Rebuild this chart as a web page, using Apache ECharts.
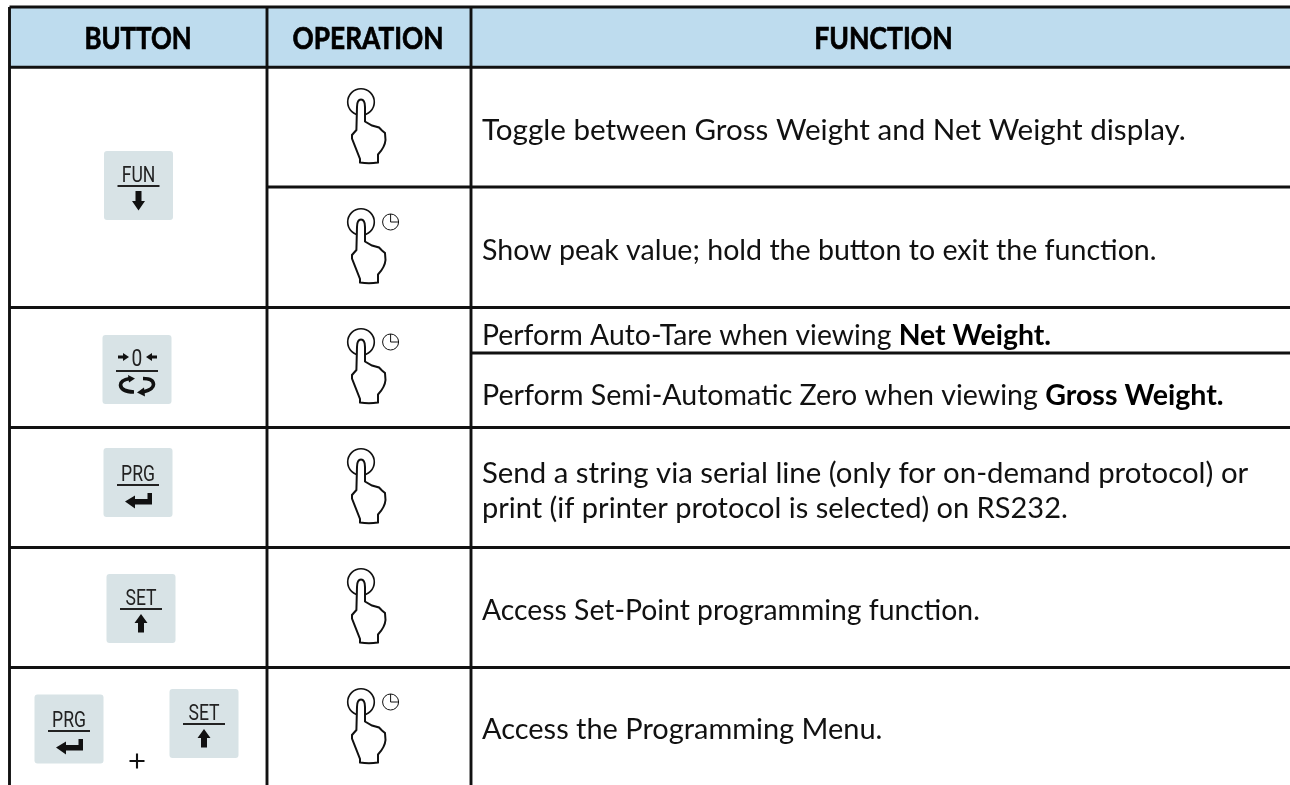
<!DOCTYPE html>
<html>
<head>
<meta charset="utf-8">
<script src="https://cdn.jsdelivr.net/npm/echarts@6/dist/echarts.min.js"></script>
<style>
    html, body { margin: 0; padding: 0; background: #fff; }
    #main { width: 1290px; height: 785px; }
</style>
</head>
<body>
<div id="main"></div>
<script>
const headers = ['BUTTON', 'OPERATION', 'FUNCTION']
const functionTexts = [
    ['Toggle between Gross Weight and Net Weight display.', ''],
    ['Show peak value; hold the button to exit the function.', ''],
    ['Perform Auto-Tare when viewing ', 'Net Weight.'],
    ['Perform Semi-Automatic Zero when viewing ', 'Gross Weight.'],
    ['Send a string via serial line (only for on-demand protocol) or', ''],
    ['print (if printer protocol is selected) on RS232.', ''],
    ['Access Set-Point programming function.', ''],
    ['Access the Programming Menu.', ''],
]
const buttonCaps = ['FUN', '0', 'PRG', 'SET', 'PRG', 'SET']
const buttonSymbols = ['down', 'cycle', 'enter', 'up', 'enter', 'up']
const operationHold = [false, true, true, false, false, true]

// page layout, in pixels of the 1290x785 axes
const columnEdges = [9.5, 267, 471, 1290]
const tableTop = 7
const headerBottom = 67.3
const headerCentreX = [138, 368, 883.5]
const headerStretch = [0.86, 0.875, 0.885]
const functionLineY = [131, 251, 335.5, 395.5, 473.5, 508.5, 610.5, 729.5]
const functionStretch = [1.02, 0.985, 0.978, 0.985, 1.013, 1, 0.977, 0.998]
const functionX = 482
const buttonCentreX = [138.5, 137, 138, 141, 69, 204]
const buttonCentreY = [185.5, 369.5, 482.5, 608.5, 729, 723.5]
const buttonRuleOffset = [0.5, 1.5, 2.5, 0.5, 2, 0.5]
const handCentreY = [102, 222, 342, 462, 582, 702]
const handCentreX = 361
// [x0, y0, x1, y1]
const rules = [
    [columnEdges[0], tableTop, columnEdges[3], tableTop],
    [columnEdges[0], headerBottom, columnEdges[3], headerBottom],
    [columnEdges[1], 187, columnEdges[3], 187],
    [columnEdges[0], 307.5, columnEdges[3], 307.5],
    [columnEdges[2], 353, columnEdges[3], 353],
    [columnEdges[0], 427.5, columnEdges[3], 427.5],
    [columnEdges[0], 547.5, columnEdges[3], 547.5],
    [columnEdges[0], 667.5, columnEdges[3], 667.5],
    [columnEdges[0], tableTop, columnEdges[0], 785],
    [columnEdges[1], tableTop, columnEdges[1], 785],
    [columnEdges[2], tableTop, columnEdges[2], 785],
]

const INK = '#111'
const BODY_FONT = 'Lato'
const CAP_FONT = 'Roboto'

const HAND_PATH = 'M0,-2.5C-2.6,-2.5 -4,1 -4,5L-4.6,28L-9,33L-9,36.5L-1,57L-1,60.5Q8,62 17,60.5L17,52.5Q24,45 24.5,38L24,31L21,28.5L18,25.5L11,23.5L4,19.5L4,5C4,1 2.6,-2.5 0,-2.5Z'
const SYMBOL_PATHS = {
    down: 'M-3,0L3,0L3,10L6.5,10L0,19.5L-6.5,10L-3,10Z',
    up: 'M0,0L6.5,9L3,9L3,18.5L-3,18.5L-3,9L-6.5,9Z',
    enter: 'M9.5,0L14,0L14,11.5L-3,11.5L-3,15.5L-13,8.5L-3,2.5L-3,6L9.5,6Z',
}

const cartesian = {
    grid: { left: 0, right: 0, top: 0, bottom: 0 },
    xAxis: { type: 'value', min: 0, max: 1290, show: false },
    yAxis: { type: 'value', min: 0, max: 785, inverse: true, show: false },
}

const customSeries = (data, renderItem) => ({
    type: 'custom',
    coordinateSystem: 'cartesian2d',
    silent: true,
    clip: false,
    animation: false,
    data,
    renderItem,
})

const indices = (list) => list.map((_, i) => [i])

const renderHeaderBand = (params, api) => {
    const a = api.coord([columnEdges[0], tableTop])
    const b = api.coord([columnEdges[3], headerBottom])
    return {
        type: 'rect',
        shape: { x: a[0], y: a[1], width: b[0] - a[0], height: b[1] - a[1] },
        style: { fill: '#bedcee' },
    }
}

const renderRule = (params, api) => {
    const a = api.coord([api.value(0), api.value(1)])
    const b = api.coord([api.value(2), api.value(3)])
    return {
        type: 'line',
        shape: { x1: a[0], y1: a[1], x2: b[0], y2: b[1] },
        style: { stroke: INK, lineWidth: 2.9 },
    }
}

const renderHeader = (params, api) => {
    const i = api.value(0)
    const p = api.coord([headerCentreX[i], 39.5])
    return {
        type: 'text',
        x: p[0],
        y: p[1],
        scaleX: headerStretch[i],
        style: {
            text: headers[i],
            fill: '#000',
            stroke: '#000',
            lineWidth: 0.7,
            fontFamily: BODY_FONT,
            fontWeight: 'bold',
            fontSize: 30,
            align: 'center',
            verticalAlign: 'middle',
        },
    }
}

const renderFunctionText = (params, api) => {
    const i = api.value(0)
    const p = api.coord([functionX, functionLineY[i]])
    const [plain, strong] = functionTexts[i]
    return {
        type: 'text',
        x: p[0],
        y: p[1],
        scaleX: functionStretch[i],
        style: {
            text: `{n|${plain}}` + (strong ? `{b|${strong}}` : ''),
            rich: {
                n: { fill: '#111', fontFamily: BODY_FONT, fontSize: 29 },
                b: { fill: '#000', fontFamily: BODY_FONT, fontSize: 29, fontWeight: 'bold' },
            },
            align: 'left',
            verticalAlign: 'middle',
        },
    }
}

const capText = (text, y, fontSize) => ({
    type: 'text',
    x: 0,
    y,
    scaleX: 0.8,
    style: {
        text,
        fill: '#222',
        fontFamily: CAP_FONT,
        fontSize,
        align: 'center',
        verticalAlign: 'middle',
    },
})

const symbolPath = (name, y) => ({
    type: 'path',
    y,
    shape: { pathData: SYMBOL_PATHS[name] },
    style: { fill: '#111' },
})

const cycleParts = () => [
    {
        type: 'path',
        shape: { pathData: 'M-7,9Q-16.5,10.5 -16.5,15.5Q-16,22 -3,22.5M6,9Q16.5,9 16.5,15Q16.5,20 6,22.5' },
        style: { stroke: '#111', lineWidth: 3.6, fill: 'none' },
    },
    {
        type: 'path',
        shape: { pathData: 'M-9,5.5L-2,9L-8,13ZM7,18L8,27L0,23Z' },
        style: { fill: '#111' },
    },
    {
        type: 'path',
        shape: { pathData: 'M-19,-14L-14,-14L-14,-16.5L-8,-12.5L-14,-8.5L-14,-11L-19,-11ZM20,-14L15,-14L15,-16.5L9,-12.5L15,-8.5L15,-11L20,-11Z' },
        style: { fill: '#111' },
    },
]

const renderButton = (params, api) => {
    const i = api.value(0)
    const p = api.coord([buttonCentreX[i], buttonCentreY[i]])
    const symbol = buttonSymbols[i]
    const ruleY = buttonRuleOffset[i]
    const children = [
        {
            type: 'rect',
            shape: { x: -34.5, y: -34.5, width: 69, height: 69, r: 3 },
            style: { fill: '#d8e3e6' },
        },
        {
            type: 'line',
            shape: { x1: -21, y1: ruleY, x2: 21, y2: ruleY },
            style: { stroke: '#222', lineWidth: 2 },
        },
    ]
    if (symbol === 'cycle') {
        children.push(capText(buttonCaps[i], -9.5, 24))
        children.push(...cycleParts())
    } else {
        children.push(capText(buttonCaps[i], ruleY - 9.5, 22))
        children.push(symbolPath(symbol, ruleY + (symbol === 'enter' ? 8 : 5)))
    }
    return { type: 'group', x: p[0], y: p[1], children }
}

const renderHand = (params, api) => {
    const i = api.value(0)
    const p = api.coord([handCentreX, handCentreY[i]])
    const children = [
        {
            type: 'circle',
            shape: { cx: 0, cy: 0, r: 13.3 },
            style: { fill: '#fff', stroke: INK, lineWidth: 1.6 },
        },
        {
            type: 'path',
            shape: { pathData: HAND_PATH },
            style: { fill: '#fff', stroke: INK, lineWidth: 2 },
        },
    ]
    if (operationHold[i]) {
        children.push(
            {
                type: 'circle',
                shape: { cx: 29.6, cy: 0, r: 8 },
                style: { fill: '#fff', stroke: INK, lineWidth: 1 },
            },
            {
                type: 'path',
                shape: { pathData: 'M29.6,-8L29.6,0L37.6,0' },
                style: { fill: 'none', stroke: INK, lineWidth: 1 },
            },
        )
    }
    return { type: 'group', x: p[0], y: p[1], children }
}

const renderPlus = (params, api) => {
    const p = api.coord([137, 761])
    return {
        type: 'path',
        x: p[0],
        y: p[1],
        shape: { pathData: 'M-7.5,0L7.5,0M0,-7.5L0,7.5' },
        style: { stroke: '#111', lineWidth: 2.1, fill: 'none' },
    }
}

const chart = echarts.init(document.getElementById('main'), null, { renderer: 'canvas' })
chart.setOption({
    backgroundColor: '#fff',
    animation: false,
    tooltip: { show: false },
    ...cartesian,
    series: [
        customSeries([[0]], renderHeaderBand),
        customSeries(rules, renderRule),
        customSeries(indices(headers), renderHeader),
        customSeries(indices(functionTexts), renderFunctionText),
        customSeries(indices(buttonCaps), renderButton),
        customSeries(indices(handCentreY), renderHand),
        customSeries([[0]], renderPlus),
    ],
})
</script>
</body>
</html>
